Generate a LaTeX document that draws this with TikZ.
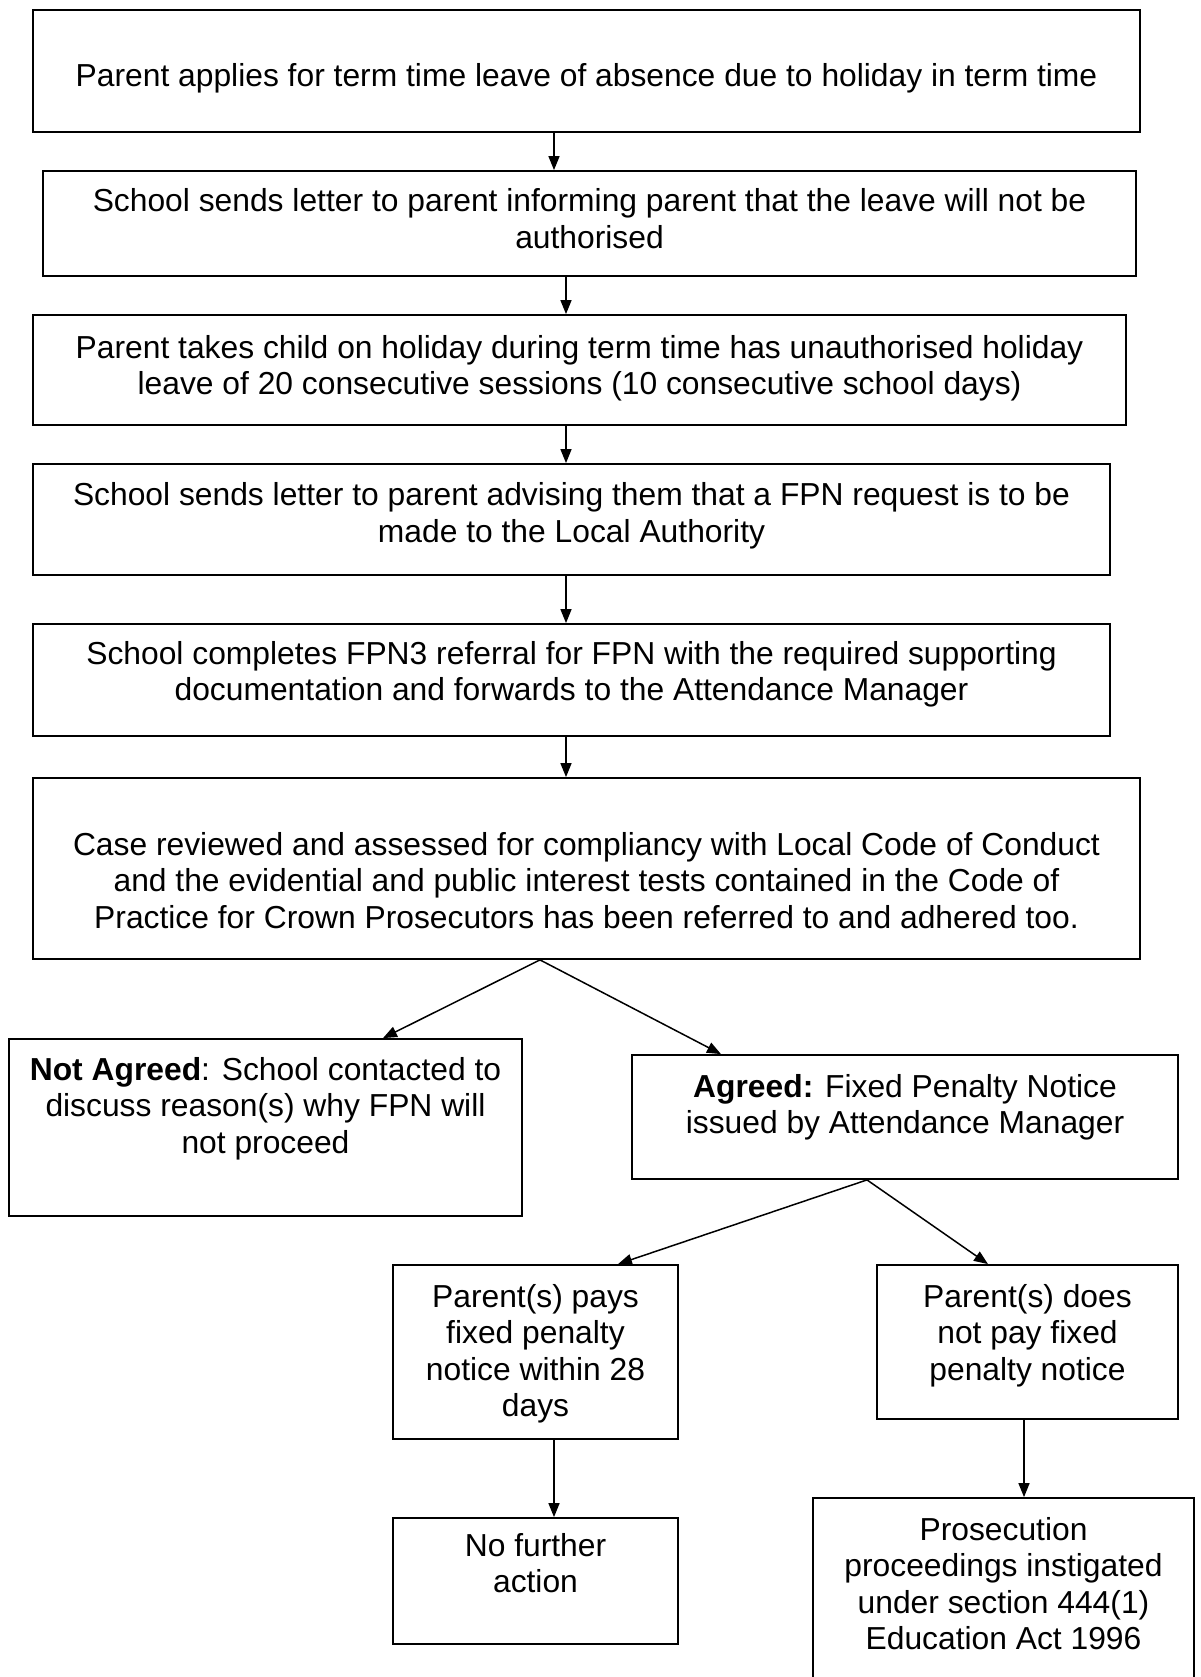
\documentclass[tikz,border=0pt]{standalone}
\usepackage{fontspec}
\setmainfont{Liberation Sans}
\usetikzlibrary{arrows.meta}
\begin{document}
\begin{tikzpicture}[x=1pt,y=-1pt,
  box/.style={draw=black, line width=1.8pt, inner sep=0pt, fill=none},
  txt/.style={anchor=base, inner sep=0pt, font=\fontsize{31.8}{36.5}\selectfont},
  arr/.style={line width=1.5pt, -{Triangle[length=14pt,width=11pt]}},
  seg/.style={line width=1.5pt}]
\clip (0,0) rectangle (1200,1677);
\fill[white] (0,0) rectangle (1200,1677);
% boxes
\node[box, minimum width=1107, minimum height=122] (b1) at (586.5,71) {};
\node[box, minimum width=1093, minimum height=105] (b2) at (589.5,223.5) {};
\node[box, minimum width=1093, minimum height=110] (b3) at (579.5,370) {};
\node[box, minimum width=1077, minimum height=111] (b4) at (571.5,519.5) {};
\node[box, minimum width=1077, minimum height=112] (b5) at (571.5,680) {};
\node[box, minimum width=1107, minimum height=181] (b6) at (586.5,868.5) {};
\node[box, minimum width=513, minimum height=177] (na) at (265.5,1127.5) {};
\node[box, minimum width=546, minimum height=124] (ag) at (905,1117) {};
\node[box, minimum width=285, minimum height=174] (pay) at (535.5,1352) {};
\node[box, minimum width=301, minimum height=154] (nopay) at (1027.5,1342) {};
\node[box, minimum width=285, minimum height=126] (nfa) at (535.5,1581) {};
\node[box, minimum width=381, minimum height=202] (pros) at (1003.5,1599) {};
% texts
\node[txt] (t1) at (586.5,87) {\begin{tabular}[t]{@{}c@{}}Parent applies for term time leave of absence due to holiday in term time\end{tabular}};
\node[txt] (t2) at (589.5,212) {\begin{tabular}[t]{@{}c@{}}School sends letter to parent informing parent that the leave will not be\\authorised\end{tabular}};
\node[txt] (t3) at (579.5,358) {\begin{tabular}[t]{@{}c@{}}Parent takes child on holiday during term time has unauthorised holiday\\leave of 20 consecutive sessions (10 consecutive school days)\end{tabular}};
\node[txt] (t4) at (571.5,505.5) {\begin{tabular}[t]{@{}c@{}}School sends letter to parent advising them that a FPN request is to be\\made to the Local Authority\end{tabular}};
\node[txt] (t5) at (571.5,664) {\begin{tabular}[t]{@{}c@{}}School completes FPN3 referral for FPN with the required supporting\\documentation and forwards to the Attendance Manager\end{tabular}};
\node[txt] (t6) at (586.5,855) {\begin{tabular}[t]{@{}c@{}}Case reviewed and assessed for compliancy with Local Code of Conduct\\and the evidential and public interest tests contained in the Code of\\Practice for Crown Prosecutors has been referred to and adhered too.\end{tabular}};
\node[txt] (tna) at (265.5,1080) {\begin{tabular}[t]{@{}c@{}}\textbf{Not Agreed}: School contacted to\\discuss reason(s) why FPN will\\not proceed\end{tabular}};
\node[txt] (tag) at (905,1097) {\begin{tabular}[t]{@{}c@{}}\textbf{Agreed:} Fixed Penalty Notice\\issued by Attendance Manager\end{tabular}};
\node[txt] (tpay) at (535.5,1307) {\begin{tabular}[t]{@{}c@{}}Parent(s) pays\\fixed penalty\\notice within 28\\days\end{tabular}};
\node[txt] (tnopay) at (1027.5,1307) {\begin{tabular}[t]{@{}c@{}}Parent(s) does\\not pay fixed\\penalty notice\end{tabular}};
\node[txt] (tnfa) at (535.5,1556) {\begin{tabular}[t]{@{}c@{}}No further\\action\end{tabular}};
\node[txt] (tpros) at (1003.5,1540) {\begin{tabular}[t]{@{}c@{}}Prosecution\\proceedings instigated\\under section 444(1)\\Education Act 1996\end{tabular}};
% connectors
\draw[arr] ([xshift=-32.5]b1.south) -- ([xshift=-35.5]b2.north);
\draw[arr] ([xshift=-23.5]b2.south) -- ([xshift=-13.5]b3.north);
\draw[arr] ([xshift=-13.5]b3.south) -- ([xshift=-5.5]b4.north);
\draw[arr] ([xshift=-5.5]b4.south) -- ([xshift=-5.5]b5.north);
\draw[arr] ([xshift=-5.5]b5.south) -- ([xshift=-20.5]b6.north);
\coordinate (apex1) at ([xshift=-46.5]b6.south);
\draw[arr] (apex1) -- ([xshift=117.5]na.north);
\draw[arr] (apex1) -- ([xshift=-184]ag.north);
\coordinate (apex2) at ([xshift=-38]ag.south);
\draw[arr] (apex2) -- ([xshift=82.5]pay.north);
\draw[arr] (apex2) -- ([xshift=-39.5]nopay.north);
\draw[arr] ([xshift=18.5]pay.south) -- ([xshift=18.5]nfa.north);
\draw[arr] ([xshift=-3.5]nopay.south) -- ([xshift=20.5]pros.north);
\end{tikzpicture}
\end{document}
